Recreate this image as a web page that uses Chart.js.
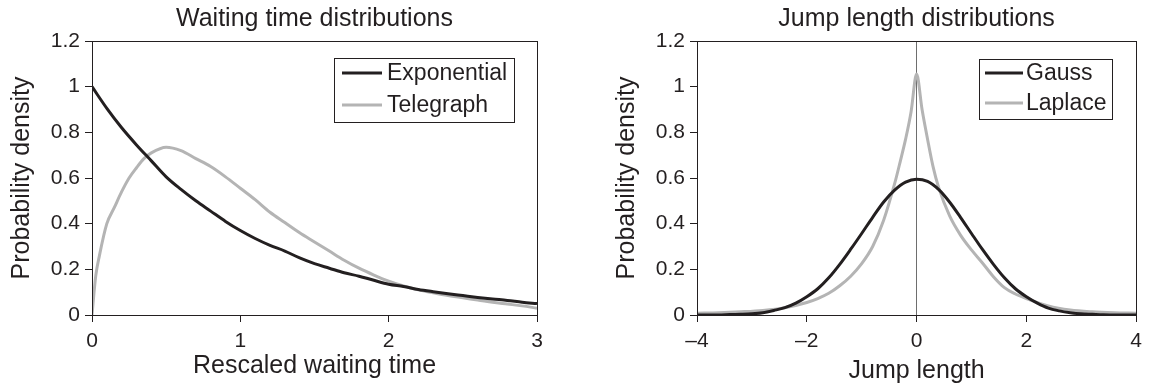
<!DOCTYPE html>
<html>
<head>
<meta charset="utf-8">
<script src="https://cdn.jsdelivr.net/npm/chart.js@4.4.1/dist/chart.umd.min.js"></script>
<style>
  body { margin: 0; background: #fff; }
  #wrap { position: relative; width: 1149px; height: 386px; }
  canvas { position: absolute; top: 0; }
</style>
</head>
<body>
<div id="wrap">
  <canvas id="waitChart" width="570" height="386" style="left:0"></canvas>
  <canvas id="jumpChart" width="579" height="386" style="left:570px"></canvas>
</div>
<script>
// Waiting time distributions (left panel)
const waitX = [0, 0.1, 0.2, 0.3, 0.4, 0.5, 0.6, 0.7, 0.8, 0.9, 1.0, 1.1, 1.2, 1.3, 1.4, 1.5, 1.6, 1.7, 1.8, 1.9, 2.0, 2.1, 2.2, 2.3, 2.4, 2.5, 2.6, 2.7, 2.8, 2.9, 3.0];
const expY = [1.0, 0.905, 0.82, 0.745, 0.675, 0.605, 0.55, 0.5, 0.455, 0.41, 0.37, 0.335, 0.305, 0.28, 0.25, 0.225, 0.205, 0.185, 0.17, 0.152, 0.135, 0.125, 0.112, 0.102, 0.093, 0.085, 0.077, 0.07, 0.064, 0.056, 0.05];
const teleX = [0, 0.025, 0.05, 0.1, 0.15, 0.2, 0.25, 0.3, 0.35, 0.4, 0.5, 0.6, 0.7, 0.8, 0.9, 1.0, 1.1, 1.2, 1.3, 1.4, 1.5, 1.6, 1.7, 1.8, 1.9, 2.0, 2.1, 2.2, 2.3, 2.4, 2.5, 2.6, 2.7, 2.8, 2.9, 3.0];
const teleY = [0, 0.17, 0.26, 0.4, 0.47, 0.54, 0.6, 0.645, 0.685, 0.71, 0.735, 0.72, 0.685, 0.65, 0.605, 0.555, 0.505, 0.45, 0.405, 0.36, 0.32, 0.28, 0.24, 0.205, 0.175, 0.148, 0.127, 0.11, 0.097, 0.085, 0.075, 0.066, 0.056, 0.048, 0.04, 0.03];

// Jump length distributions (right panel)
const jumpX = [-4, -3.8, -3.6, -3.4, -3.2, -3, -2.8, -2.6, -2.4, -2.2, -2, -1.8, -1.6, -1.4, -1.2, -1, -0.8, -0.6, -0.4, -0.2, 0, 0.2, 0.4, 0.6, 0.8, 1, 1.2, 1.4, 1.6, 1.8, 2, 2.2, 2.4, 2.6, 2.8, 3, 3.2, 3.4, 3.6, 3.8, 4];
const gaussY = [0, 0, 0, 0.002, 0.003, 0.005, 0.01, 0.02, 0.032, 0.052, 0.08, 0.115, 0.163, 0.222, 0.288, 0.357, 0.428, 0.495, 0.547, 0.582, 0.595, 0.585, 0.55, 0.495, 0.428, 0.357, 0.287, 0.222, 0.163, 0.115, 0.08, 0.052, 0.03, 0.018, 0.01, 0.005, 0.003, 0.001, 0, 0, 0];
const laplaceX = [-4, -3.6, -3.2, -2.8, -2.4, -2, -1.8, -1.6, -1.4, -1.2, -1, -0.8, -0.6, -0.4, -0.3, -0.2, -0.1, 0, 0.1, 0.2, 0.3, 0.4, 0.6, 0.8, 1, 1.2, 1.4, 1.6, 1.8, 2, 2.4, 2.8, 3.2, 3.6, 4];
const laplaceY = [0.008, 0.01, 0.014, 0.02, 0.032, 0.055, 0.072, 0.095, 0.128, 0.17, 0.225, 0.3, 0.415, 0.575, 0.67, 0.77, 0.89, 1.055, 0.9, 0.77, 0.65, 0.56, 0.435, 0.35, 0.285, 0.228, 0.168, 0.12, 0.092, 0.072, 0.04, 0.022, 0.014, 0.01, 0.008];

const INK = '#231f20';
const GREY = '#b4b4b4';
const FONT = "'Liberation Sans', Arial, Helvetica, sans-serif";

Chart.defaults.font.family = FONT;
Chart.defaults.color = INK;

const pts = (xs, ys) => xs.map((x, i) => ({ x, y: ys[i] }));
const dash = v => v < 0 ? '\u2013' + Math.abs(v) : String(v);
const short = v => String(+v.toFixed(1));

// box around the plot (top + right edges; left/bottom come from the axes)
const plotFrame = {
    id: 'plotFrame',
    afterDraw(chart) {
        const { ctx, chartArea: a } = chart;
        ctx.save();
        ctx.strokeStyle = INK;
        ctx.lineWidth = 1;
        ctx.strokeRect(Math.round(a.left) + 0.5, Math.round(a.top) + 0.5, Math.round(a.right - a.left), Math.round(a.bottom - a.top));
        ctx.restore();
    }
};

// framed legend in the upper right of the plot
const boxLegend = {
    id: 'boxLegend',
    afterDraw(chart, args, o) {
        const { ctx, chartArea } = chart;
        const sets = chart.data.datasets;
        ctx.save();
        ctx.font = `${o.fontSize}px ${FONT}`;
        const textW = Math.max(...sets.map(d => ctx.measureText(d.label).width));
        const w = Math.round(o.padL + o.lineLen + o.gap + textW + o.padR);
        const right = Math.round(chartArea.right - o.right);
        const left = right - w;
        const top = Math.round(chartArea.top + o.top);
        ctx.fillStyle = '#fff';
        ctx.fillRect(left, top, w, o.height);
        ctx.strokeStyle = INK;
        ctx.lineWidth = 1;
        ctx.strokeRect(left + 0.5, top + 0.5, w, o.height);
        ctx.textBaseline = 'middle';
        ctx.textAlign = 'left';
        sets.forEach((d, i) => {
            const y = top + o.rows[i];
            ctx.strokeStyle = d.borderColor;
            ctx.lineWidth = 3;
            ctx.beginPath();
            ctx.moveTo(left + o.padL, y);
            ctx.lineTo(left + o.padL + o.lineLen, y);
            ctx.stroke();
            ctx.fillStyle = INK;
            ctx.fillText(d.label, left + o.padL + o.lineLen + o.gap, y + 1);
        });
        ctx.restore();
    }
};

function makeOptions(c) {
    return {
        responsive: false,
        animation: false,
        layout: { padding: { left: c.padLeft, right: c.padRight, top: 0, bottom: 0 } },
        elements: { point: { radius: 0 } },
        plugins: {
            legend: { display: false },
            tooltip: { enabled: false },
            title: {
                display: true, text: c.title, color: INK, fullSize: false,
                font: { size: 25, weight: 'normal' },
                padding: { top: 4, bottom: 7 }
            },
            boxLegend: c.legend
        },
        scales: {
            x: {
                type: 'linear', min: c.xMin, max: c.xMax,
                afterFit: s => { s.height = 71; },
                border: { color: INK, width: 1 },
                grid: {
                    drawOnChartArea: c.zeroLine,
                    color: g => (c.zeroLine && g.tick && g.tick.value === 0) ? '#6e6e6e' : 'rgba(0,0,0,0)',
                    tickColor: INK, tickLength: 7, lineWidth: 1
                },
                ticks: { stepSize: c.xStep, color: INK, font: { size: 21 }, padding: 7, maxRotation: 0, callback: dash },
                title: { display: true, text: c.xTitle, color: INK, font: { size: 25 }, padding: { top: 0, bottom: c.xTitlePad } }
            },
            y: {
                min: 0, max: 1.2,
                afterFit: s => { s.width = 92; },
                border: { color: INK, width: 1 },
                grid: { drawOnChartArea: false, tickColor: INK, tickLength: 7 },
                ticks: { stepSize: 0.2, color: INK, font: { size: 21 }, padding: 5, callback: short },
                title: { display: true, text: 'Probability density', color: INK, font: { size: 25 }, padding: { top: 7, bottom: 0 } }
            }
        }
    };
}

new Chart(document.getElementById('waitChart'), {
    type: 'line',
    data: {
        datasets: [
            { label: 'Exponential', data: pts(waitX, expY), borderColor: INK, borderWidth: 3, cubicInterpolationMode: 'monotone' },
            { label: 'Telegraph', data: pts(teleX, teleY), borderColor: GREY, borderWidth: 3, cubicInterpolationMode: 'monotone' }
        ]
    },
    options: makeOptions({
        title: 'Waiting time distributions', xTitle: 'Rescaled waiting time',
        xMin: 0, xMax: 3, xStep: 1, padLeft: 0, padRight: 33, xTitlePad: 5, zeroLine: false,
        legend: { fontSize: 23, right: 23, top: 17, height: 64, rows: [15, 47], padL: 8, lineLen: 40, gap: 5, padR: 7 }
    }),
    plugins: [plotFrame, boxLegend]
});

new Chart(document.getElementById('jumpChart'), {
    type: 'line',
    data: {
        datasets: [
            { label: 'Gauss', data: pts(jumpX, gaussY), borderColor: INK, borderWidth: 3, cubicInterpolationMode: 'monotone' },
            { label: 'Laplace', data: pts(laplaceX, laplaceY), borderColor: GREY, borderWidth: 3, cubicInterpolationMode: 'monotone' }
        ]
    },
    options: makeOptions({
        title: 'Jump length distributions', xTitle: 'Jump length',
        xMin: -4, xMax: 4, xStep: 2, padLeft: 35, padRight: 8, xTitlePad: 0, zeroLine: true,
        legend: { fontSize: 23, right: 24, top: 18, height: 60, rows: [14, 44], padL: 6, lineLen: 38, gap: 3, padR: 5 }
    }),
    plugins: [plotFrame, boxLegend]
});
</script>
</body>
</html>
